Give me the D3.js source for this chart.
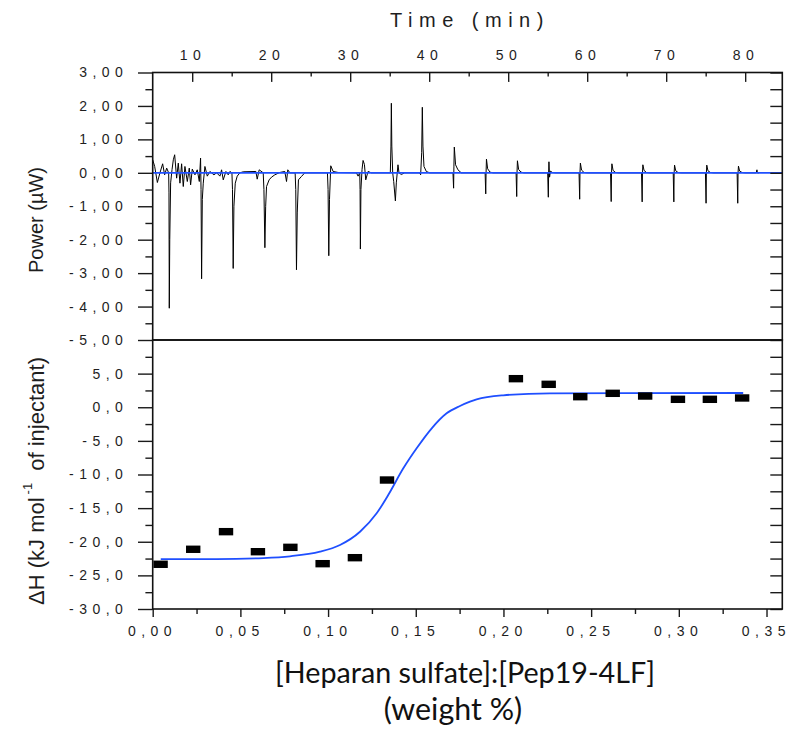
<!DOCTYPE html>
<html><head><meta charset="utf-8">
<script src="https://cdn.jsdelivr.net/npm/d3@7"></script>
<style>
body{margin:0;background:#fff;}
svg{display:block;}
.ax .tick text{font-family:"Liberation Sans",Arial,sans-serif;font-size:14px;fill:#1e1e1e;letter-spacing:0.8px;white-space:pre;}
.ax path.domain{display:none;}
.ax .tick line{stroke:#1a1a1a;stroke-width:1.4px;}
</style></head><body>
<svg id="chart" width="789" height="729"></svg>
<script>
// ---------- data ----------
const timeTicks = [10, 20, 30, 40, 50, 60, 70, 80];
const timeMinorTicks = [15, 25, 35, 45, 55, 65, 75];
const powerTicks = [3, 2, 1, 0, -1, -2, -3, -4, -5];
const powerMinorTicks = [2.5, 1.5, 0.5, -0.5, -1.5, -2.5, -3.5, -4.5];
const dhTicks = [5, 0, -5, -10, -15, -20, -25, -30];
const dhMinorTicks = [7.5, 2.5, -2.5, -7.5, -12.5, -17.5, -22.5, -27.5];
const ratioTicks = [0, 0.05, 0.10, 0.15, 0.20, 0.25, 0.30, 0.35];
const ratioMinorTicks = [0.025, 0.075, 0.125, 0.175, 0.225, 0.275, 0.325];

// raw ITC power trace: [time (min), power (µW)]
const powerTrace = [
 [5.00,0.39],[5.25,0.19],[5.59,-0.29],[5.92,0.00],[6.26,0.27],[6.51,-0.06],[6.77,0.14],[7.02,0.00],
 [7.06,-0.6],[7.10,-4.05],[7.16,-2.0],[7.27,-0.3],[7.45,0.1],[7.61,0.39],[7.78,0.54],[8.03,-0.16],
 [8.24,0.29],[8.45,-0.31],[8.66,0.27],[8.87,-0.41],[9.08,0.19],[9.38,-0.26],[9.63,0.14],[9.80,-0.36],
 [10.01,0.11],[10.35,-0.06],[10.64,0.09],[10.90,-0.26],[11.06,0.44],[11.12,-0.5],[11.19,-3.17],[11.28,-0.8],
 [11.40,-0.31],[11.61,0.19],[11.91,-0.10],[12.24,0.04],[12.75,-0.06],[13.09,0.00],[13.51,-0.10],[13.72,0.09],
 [13.93,-0.21],[14.27,0.04],[14.56,-0.06],[14.77,0.04],[15.03,0.00],[15.10,-0.5],[15.19,-2.86],[15.28,-1.0],
 [15.45,-0.31],[15.70,-0.10],[16.04,0.00],[16.46,0.03],[18.06,0.04],[18.23,-0.19],[18.48,0.09],[18.99,0.00],
 [19.08,-0.5],[19.20,-2.24],[19.30,-1.0],[19.41,-0.41],[19.74,-0.21],[20.04,-0.13],[20.46,-0.06],[21.09,0.01],
 [21.72,0.04],[21.94,-0.26],[22.10,0.09],[22.36,0.00],[23.03,0.00],[23.11,-0.5],[23.20,-2.90],[23.30,-1.2],
 [23.45,-0.21],[23.83,-0.11],[24.25,0.00],[27.12,0.00],[27.20,-0.5],[27.29,-2.48],[27.38,-0.8],[27.54,0.21],
 [27.84,0.04],[28.47,0.01],[30.79,0.00],[31.00,-0.10],[31.21,0.00],[31.25,-0.5],[31.29,-2.28],[31.36,-0.5],
 [31.50,0.1],[31.63,0.37],[31.80,0.25],[31.97,-0.21],[32.26,0.04],[32.68,0.00],
 [35.08,0.00],[35.16,0.8],[35.21,2.08],[35.27,0.8],[35.38,0.00],[35.51,-0.26],[35.72,-0.84],[35.84,-0.30],
 [36.05,0.24],[36.18,0.00],[36.47,-0.05],[36.90,0.00],
 [38.79,0.00],[38.92,-0.06],[39.05,0.6],[39.13,1.96],[39.21,0.8],[39.34,0.19],[39.64,0.04],[40.06,0.00],
 [43.01,0.00],[43.09,-0.46],[43.13,0.2],[43.18,0.77],[43.34,0.24],[43.64,0.09],[44.06,0.00],
 [47.08,0],[47.16,-0.63],[47.20,0],[47.25,0.41],[47.40,0.12],[47.70,0.02],[48.10,0],
 [51.00,0],[51.08,-0.71],[51.12,0],[51.17,0.36],[51.32,0.10],[51.62,0.02],[52.00,0],
 [55.00,0],[55.08,-0.73],[55.12,0],[55.16,0.33],[55.24,-0.13],[55.35,0.05],[55.60,0.01],[56.00,0],
 [58.97,0],[59.05,-0.79],[59.09,0],[59.14,0.29],[59.29,0.08],[59.60,0.01],[60.00,0],
 [62.96,0],[63.04,-0.86],[63.08,0],[63.13,0.27],[63.28,0.07],[63.60,0.01],[64.00,0],
 [66.88,0],[66.96,-0.87],[67.00,0],[67.05,0.24],[67.20,0.07],[67.50,0.01],[67.90,0],
 [70.89,0],[70.97,-0.87],[71.01,0],[71.06,0.23],[71.21,0.06],[71.50,0.01],[71.90,0],
 [74.97,0],[75.05,-0.91],[75.09,0],[75.14,0.23],[75.29,0.06],[75.60,0.01],[76.00,0],
 [78.98,0],[79.06,-0.91],[79.10,0],[79.15,0.20],[79.30,0.05],[79.60,0.01],[80.00,0],
 [81.40,0],[81.49,0.09],[81.55,0.0],[81.75,0.0]
];
const powerBaseline = [[5, 0], [84.7, 0]];

// integrated heats: molar ratio (weight %) and ΔH (kJ/mol)
const ratioValues = [0.0045,0.0231,0.0418,0.0600,0.0785,0.0969,0.1153,0.1336,0.2071,0.2258,0.2438,0.2623,0.2808,0.2995,0.3177,0.3361];
const dhValues = [-23.35,-21.12,-18.5,-21.48,-20.83,-23.26,-22.37,-10.82,4.25,3.41,1.57,2.07,1.67,1.18,1.18,1.38];

// fitted curve
const fitRatio = [0.0046,0.0365,0.0631,0.0783,0.0954,0.1068,0.1182,0.1277,0.1343,0.1429,0.1505,0.1591,0.1676,0.1752,0.1809,0.1847,0.1999,0.2265,0.3367];
const fitDH = [-22.57,-22.57,-22.42,-22.16,-21.48,-20.48,-18.51,-15.77,-13.05,-9.08,-6.10,-3.13,-0.90,0.19,0.83,1.18,1.78,2.07,2.12];

// ---------- layout ----------
const L = 152.7, R = 782.3, T = 72.5, MID = 340, B = 609;
const BLUE = "#1f4fff";
const svg = d3.select("#chart");

const xTime = d3.scaleLinear().domain([5, 84.7]).range([L, R]);
const yPow = d3.scaleLinear().domain([-5, 3]).range([MID, T]);
const xRatio = d3.scaleLinear().domain([0, 0.359]).range([L, R]);
const yDH = d3.scaleLinear().domain([-30, 10]).range([B, MID]);

// Origin-style spaced labels: "-1,00" -> "- 1 , 0 0"
const spaced = s => s.split("").join(" ");
const fmtNum = dec => d => spaced((d < 0 ? "-" : "") + Math.abs(d).toFixed(dec).replace(".", ","));

// clip paths
const defs = svg.append("defs");
defs.append("clipPath").attr("id","clipTop").append("rect").attr("x",L).attr("y",T).attr("width",R-L).attr("height",MID-T);
defs.append("clipPath").attr("id","clipBot").append("rect").attr("x",L).attr("y",MID).attr("width",R-L).attr("height",B-MID);

// ---------- top panel marks ----------
const gTop = svg.append("g").attr("clip-path","url(#clipTop)");
gTop.append("path").datum(powerTrace)
  .attr("fill","none").attr("stroke","#000").attr("stroke-width",1).attr("stroke-linejoin","round")
  .attr("d", d3.line().x(d => xTime(d[0])).y(d => yPow(d[1])));
gTop.append("path").datum(powerBaseline)
  .attr("fill","none").attr("stroke",BLUE).attr("stroke-width",1.8)
  .attr("d", d3.line().x(d => xTime(d[0])).y(d => yPow(d[1])));

// ---------- bottom panel marks ----------
const gBot = svg.append("g").attr("clip-path","url(#clipBot)");
const fitData = fitRatio.map((r,i) => [r, fitDH[i]]);
gBot.append("path").datum(fitData)
  .attr("fill","none").attr("stroke",BLUE).attr("stroke-width",1.8)
  .attr("d", d3.line().curve(d3.curveMonotoneX).x(d => xRatio(d[0])).y(d => yDH(d[1])));
const pts = ratioValues.map((r,i) => [r, dhValues[i]]);
svg.append("g").selectAll("rect").data(pts).join("rect")
  .attr("x", d => xRatio(d[0]) - 7.2).attr("y", d => yDH(d[1]) - 3.7)
  .attr("width", 14.4).attr("height", 7.4).attr("fill","#000");

// ---------- axes ----------
// top time axis (ticks inward)
const gTime = svg.append("g").attr("class","ax").attr("transform",`translate(0,${T})`)
  .call(d3.axisTop(xTime).tickValues(timeTicks).tickFormat(d => spaced(String(d))).tickSizeInner(-9.4).tickSizeOuter(0).tickPadding(13));
gTime.selectAll(".tick text").attr("dx", -2);
svg.append("g").attr("class","ax").attr("transform",`translate(0,${T})`)
  .call(d3.axisTop(xTime).tickValues(timeMinorTicks).tickFormat("").tickSizeInner(-4).tickSizeOuter(0));

// left power axis (ticks outward)
svg.append("g").attr("class","ax").attr("transform",`translate(${L},0)`)
  .call(d3.axisLeft(yPow).tickValues(powerTicks).tickFormat(fmtNum(2)).tickSizeInner(14.7).tickSizeOuter(0).tickPadding(14.3));
svg.append("g").attr("class","ax").attr("transform",`translate(${L},0)`)
  .call(d3.axisLeft(yPow).tickValues(powerMinorTicks).tickFormat("").tickSizeInner(7.3).tickSizeOuter(0));
// right power axis (ticks inward)
svg.append("g").attr("class","ax").attr("transform",`translate(${R},0)`)
  .call(d3.axisRight(yPow).tickValues(powerTicks.concat(powerMinorTicks)).tickFormat("").tickSizeInner(-12).tickSizeOuter(0));

// left ΔH axis
svg.append("g").attr("class","ax").attr("transform",`translate(${L},0)`)
  .call(d3.axisLeft(yDH).tickValues(dhTicks).tickFormat(fmtNum(1)).tickSizeInner(14.7).tickSizeOuter(0).tickPadding(14.3));
svg.append("g").attr("class","ax").attr("transform",`translate(${L},0)`)
  .call(d3.axisLeft(yDH).tickValues(dhMinorTicks).tickFormat("").tickSizeInner(7.3).tickSizeOuter(0));
// right ΔH axis
svg.append("g").attr("class","ax").attr("transform",`translate(${R},0)`)
  .call(d3.axisRight(yDH).tickValues(dhTicks.concat(dhMinorTicks)).tickFormat("").tickSizeInner(-12).tickSizeOuter(0));

// bottom ratio axis (ticks outward)
const gRatio = svg.append("g").attr("class","ax").attr("transform",`translate(0,${B})`)
  .call(d3.axisBottom(xRatio).tickValues(ratioTicks).tickFormat(fmtNum(2)).tickSizeInner(8).tickSizeOuter(0).tickPadding(8.8));
gRatio.selectAll(".tick text").attr("dx", -3);
svg.append("g").attr("class","ax").attr("transform",`translate(0,${B})`)
  .call(d3.axisBottom(xRatio).tickValues(ratioMinorTicks).tickFormat("").tickSizeInner(5).tickSizeOuter(0));

// frames
svg.append("rect").attr("x",L).attr("y",T).attr("width",R-L).attr("height",MID-T)
  .attr("fill","none").attr("stroke","#111").attr("stroke-width",1.6);
svg.append("rect").attr("x",L).attr("y",MID).attr("width",R-L).attr("height",B-MID)
  .attr("fill","none").attr("stroke","#111").attr("stroke-width",1.6);

// ---------- titles ----------
svg.append("text").attr("x", 470).attr("y", 27).attr("text-anchor","middle")
  .attr("font-family","Liberation Sans, Arial, sans-serif").attr("font-size",20)
  .attr("letter-spacing","6.5px").attr("fill","#1e1e1e").text("Time (min)");

svg.append("text").attr("transform","translate(43,220) rotate(-90)").attr("text-anchor","middle")
  .attr("font-family","Liberation Sans, Arial, sans-serif").attr("font-size",20).attr("fill","#1e1e1e")
  .text("Power (µW)");

const yt = svg.append("text").attr("transform","translate(44,481) rotate(-90)").attr("text-anchor","middle")
  .attr("font-family","Liberation Sans, Arial, sans-serif").attr("font-size",22).attr("fill","#1e1e1e");
yt.append("tspan").text("ΔH (kJ mol");
yt.append("tspan").attr("dy",-12).attr("dx",3).attr("font-size",13).text("-1");
yt.append("tspan").attr("dy",12).attr("dx",6).text(" of injectant)");

const xt1 = svg.append("text").attr("x",465).attr("y",683).attr("text-anchor","middle")
  .attr("font-family","Lato, 'Open Sans', sans-serif").attr("font-size",26).attr("fill","#111")
  .text("[Heparan sulfate]:[Pep19-4LF]");
const w1 = xt1.node().getComputedTextLength();
const fs1 = 26 * 380 / w1;
xt1.attr("font-size", fs1);
svg.append("text").attr("x",453).attr("y",720).attr("text-anchor","middle")
  .attr("font-family","Lato, 'Open Sans', sans-serif").attr("font-size",fs1 * 1.06).attr("fill","#111")
  .text("(weight %)");
</script>
</body></html>
